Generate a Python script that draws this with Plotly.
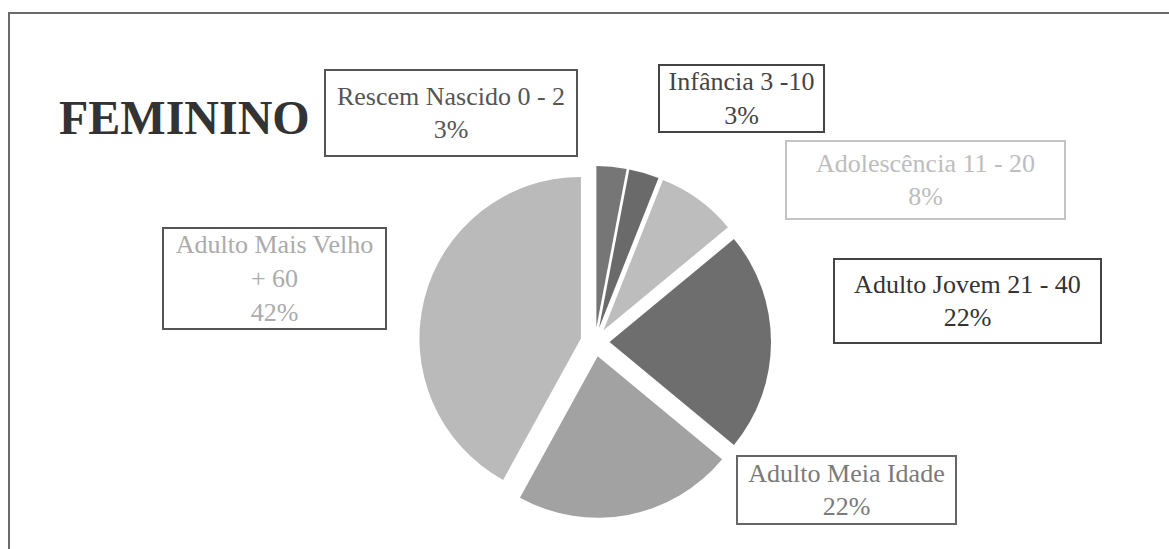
import plotly.graph_objects as go

W, H = 1169, 549

categories = ["Rescem Nascido 0 - 2", "Infância 3 -10", "Adolescência 11 - 20",
              "Adulto Jovem 21 - 40", "Adulto Meia Idade", "Adulto Mais Velho<br>+ 60"]
values = [3, 3, 8, 22, 22, 42]
slice_colors = ["#767676", "#6a6a6a", "#bdbdbd", "#6e6e6e", "#a2a2a2", "#bababa"]
pulls = [0.09, 0.09, 0.09, 0.09, 0.09, 0.09]

# label box styling (pixel boxes: x0, y0, x1, y1)
label_boxes = [(324, 69, 578, 157), (658, 64, 825, 133), (785, 140, 1066, 220),
               (833, 258, 1102, 344), (736, 455, 957, 525), (162, 227, 387, 330)]
text_colors = ["#555555", "#444444", "#bdbdbd", "#333333", "#7a7a7a", "#ababab"]
border_colors = ["#555555", "#444444", "#c4c4c4", "#444444", "#666666", "#555555"]


def px(x):
    return x / W


def py(y):
    return 1 - y / H


fig = go.Figure()
cx, cy, half = 595, 342, 176
fig.add_trace(go.Pie(
    labels=categories, values=values, sort=False, direction="clockwise", rotation=0,
    pull=pulls, marker=dict(colors=slice_colors, line=dict(color="rgba(0,0,0,0)", width=0)),
    textinfo="none", hoverinfo="label+percent", showlegend=False,
    domain=dict(x=[px(cx - half), px(cx + half)], y=[py(cy + half), py(cy - half)]),
))

total = sum(values)
annotations = []
for cat, v, (x0, y0, x1, y1), tc, bc in zip(categories, values, label_boxes, text_colors, border_colors):
    annotations.append(dict(
        x=px((x0 + x1) / 2), y=py((y0 + y1) / 2), xref="paper", yref="paper",
        xanchor="center", yanchor="middle", showarrow=False,
        text=f"{cat}<br>{round(v / total * 100)}%",
        font=dict(family="Liberation Serif, Times New Roman, serif", size=26, color=tc),
        align="center", valign="middle",
        width=x1 - x0 - 4, height=y1 - y0 - 4, borderpad=0,
        bordercolor=bc, borderwidth=2, bgcolor="white",
    ))

annotations.append(dict(
    x=px(185), y=py(118), xref="paper", yref="paper", xanchor="center", yanchor="middle",
    showarrow=False, text="<b>FEMININO</b>",
    font=dict(family="Liberation Serif, Times New Roman, serif", size=48, color="#333333"),
))

shapes = [
    dict(type="line", xref="paper", yref="paper", x0=px(8), x1=1, y0=py(13), y1=py(13),
         line=dict(color="#6a6a6a", width=2)),
    dict(type="line", xref="paper", yref="paper", x0=px(9), x1=px(9), y0=py(13), y1=0,
         line=dict(color="#6a6a6a", width=2)),
]

fig.update_layout(
    width=W, height=H, margin=dict(l=0, r=0, t=0, b=0),
    paper_bgcolor="white", plot_bgcolor="white",
    annotations=annotations, shapes=shapes,
)

fig.write_html("out.html")
